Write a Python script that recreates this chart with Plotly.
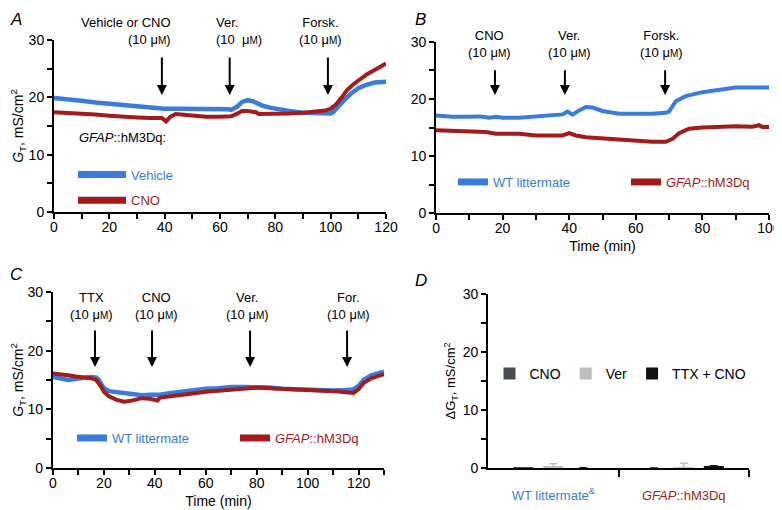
import plotly.graph_objects as go

BLUE = '#3b7bdb'
RED = '#a41b1b'
FONT = 'Arial, "Liberation Sans", sans-serif'

# Panel A: vehicle vs CNO, GFAP::hM3Dq
a_time_vehicle = [0, 5, 10, 15, 20, 25, 30, 35, 38, 40, 45, 50, 55, 60, 63, 64, 66, 68, 70, 72,
                  75, 78, 80, 85, 90, 95, 100, 101, 103, 105, 108, 110, 113, 116, 120]
a_vehicle = [19.9, 19.7, 19.4, 19.1, 18.9, 18.7, 18.5, 18.3, 18.1, 18.0, 18.0, 18.0, 18.0, 18.0, 17.9,
             17.8, 18.3, 19.2, 19.5, 19.3, 18.6, 18.2, 18.0, 17.6, 17.3, 17.2, 17.2, 17.5, 18.6, 19.6,
             20.9, 21.6, 22.2, 22.6, 22.7]
a_time_cno = [0, 5, 10, 15, 20, 25, 30, 35, 39, 40.5, 42, 44, 46, 48, 50, 55, 60, 64, 66, 68,
              70, 73, 74, 80, 85, 90, 95, 98, 100, 102, 104, 106, 108, 110, 113, 116, 120]
a_cno = [17.4, 17.3, 17.2, 17.0, 16.8, 16.6, 16.5, 16.4, 16.4, 15.8, 16.6, 17.1, 17.0, 16.8, 16.7,
         16.6, 16.6, 16.7, 17.1, 17.6, 17.6, 17.4, 17.1, 17.1, 17.2, 17.3, 17.5, 17.7, 18.0, 18.8,
         20.0, 21.3, 22.2, 23.0, 24.0, 24.8, 25.9]
a_events = [39, 63.5, 99]

# Panel B: WT littermate vs GFAP::hM3Dq
b_time_wt = [0, 5, 10, 13, 15, 16, 18, 20, 25, 30, 35, 38, 39.5, 41, 43, 45, 47, 50, 55, 60,
             65, 69, 70, 72, 75, 80, 85, 90, 95, 100]
b_wt = [17.1, 16.9, 16.9, 16.95, 16.8, 16.7, 16.9, 16.7, 16.7, 16.9, 17.1, 17.3, 17.8, 17.25, 18.0,
        18.6, 18.5, 17.9, 17.4, 17.4, 17.4, 17.6, 17.8, 19.6, 20.5, 21.2, 21.6, 22.0, 22.0, 22.0]
b_time_gfap = [0, 5, 10, 15, 18, 22, 25, 30, 35, 38, 40, 42, 45, 50, 55, 60, 65, 69, 71, 73,
               76, 80, 85, 90, 95, 97, 98, 100]
b_gfap = [14.5, 14.4, 14.3, 14.2, 13.9, 14.0, 13.9, 13.6, 13.6, 13.6, 14.0, 13.6, 13.3, 13.1, 12.9,
          12.6, 12.5, 12.5, 13.0, 14.0, 14.8, 15.0, 15.15, 15.2, 15.15, 15.4, 15.1, 15.1]
b_events = [17.7, 38.7, 68.8]

# Panel C: TTX pre-treatment
c_time = [0, 3, 6, 9, 12, 15, 17, 18, 19, 20, 22, 25, 28, 30, 33, 35, 38, 40, 41, 42,
          45, 50, 55, 60, 65, 70, 75, 80, 85, 90, 95, 100, 105, 110, 115, 118, 120, 122, 125, 128, 130]
c_wt = [15.5, 15.3, 15.0, 15.2, 15.4, 15.5, 15.4, 15.0, 14.3, 13.6, 13.1, 12.9, 12.7, 12.6, 12.5,
        12.4, 12.5, 12.5, 12.4, 12.5, 12.7, 13.0, 13.2, 13.5, 13.6, 13.8, 13.8, 13.8, 13.7, 13.5,
        13.4, 13.4, 13.3, 13.2, 13.3, 13.4, 14.0, 15.0, 15.8, 16.2, 16.4]
c_gfap = [16.1, 16.0, 15.8, 15.6, 15.5, 15.3, 15.0, 14.5, 13.8, 13.0, 12.2, 11.6, 11.3, 11.4, 11.7,
          11.9, 11.8, 11.7, 11.5, 12.0, 12.2, 12.4, 12.7, 13.0, 13.2, 13.4, 13.6, 13.7, 13.6, 13.5,
          13.4, 13.4, 13.3, 13.1, 12.9, 12.8, 13.4, 14.5, 15.3, 15.8, 16.0]
c_events = [16.5, 38.9, 77.4, 115.5]

# Panel D: delta G_T summary
d_groups = ["<span style='color:%s'>WT littermate<sup>&amp;</sup></span>" % BLUE,
            "<span style='color:%s'><i>GFAP</i>::hM3Dq</span>" % RED]
d_pos = [0.5, 1.5]
d_cno = [-0.15, -0.35]
d_cno_err = [0.1, 0.4]
d_ver = [0.25, -0.1]
d_ver_err = [0.5, 0.9]
d_ttx = [0.0, 0.3]
d_ttx_err = [0.05, 0.1]

MU = "(10 μ<span style='font-size:10px'>M</span>)"

fig = go.Figure()


def line(x, y, color, xa, ya, w=4):
    return go.Scatter(x=x, y=y, mode='lines', line=dict(color=color, width=w),
                      xaxis=xa, yaxis=ya, showlegend=False, hoverinfo='skip')


def key(name, color, legend, group, xa, ya, lw=None):
    # trace only for the legend, thicker key line
    tr = go.Scatter(x=[None], y=[None], mode='lines', line=dict(color=color, width=7),
                    name=name, legend=legend, legendgroup=group, xaxis=xa, yaxis=ya)
    if lw:
        tr.legendwidth = lw
    return tr


fig.add_trace(line(a_time_vehicle, a_vehicle, BLUE, 'x', 'y', 4.5))
fig.add_trace(line(a_time_cno, a_cno, RED, 'x', 'y'))
fig.add_trace(key("<span style='color:%s'>Vehicle</span>" % BLUE, BLUE, 'legend', 'a1', 'x', 'y'))
fig.add_trace(key("<span style='color:%s'>CNO</span>" % RED, RED, 'legend', 'a2', 'x', 'y'))

fig.add_trace(line(b_time_wt, b_wt, BLUE, 'x2', 'y2'))
fig.add_trace(line(b_time_gfap, b_gfap, RED, 'x2', 'y2'))
fig.add_trace(key("<span style='color:%s'>WT littermate</span>" % BLUE, BLUE, 'legend2', 'b1', 'x2', 'y2', 128))
fig.add_trace(key("<span style='color:%s'><i>GFAP</i>::hM3Dq</span>" % RED, RED, 'legend2', 'b2', 'x2', 'y2'))

fig.add_trace(line(c_time, c_wt, BLUE, 'x3', 'y3', 4.5))
fig.add_trace(line(c_time, c_gfap, RED, 'x3', 'y3'))
fig.add_trace(key("<span style='color:%s'>WT littermate</span>" % BLUE, BLUE, 'legend3', 'c1', 'x3', 'y3', 118))
fig.add_trace(key("<span style='color:%s'><i>GFAP</i>::hM3Dq</span>" % RED, RED, 'legend3', 'c2', 'x3', 'y3'))

for name, vals, errs, col in [('CNO', d_cno, d_cno_err, '#474d50'),
                              ('Ver', d_ver, d_ver_err, '#bcc0c1'),
                              ('TTX + CNO', d_ttx, d_ttx_err, '#111111')]:
    fig.add_trace(go.Bar(x=d_pos, y=vals, name=name, marker=dict(color=col, line=dict(width=0)),
                         error_y=dict(type='data', array=errs, color=col, thickness=1.5, width=4),
                         xaxis='x4', yaxis='y4', legend='legend4'))


def ax(**kw):
    d = dict(showline=True, linecolor='black', linewidth=2, ticks='outside', ticklen=5,
             tickwidth=2, tickcolor='black', showgrid=False, zeroline=False, automargin=False,
             ticklabeloverflow='allow', tickfont=dict(size=14, color='black'))
    d.update(kw)
    return d


def minor(step):
    return dict(dtick=step, ticks='outside', ticklen=5, tickwidth=2, tickcolor='black')


ytitle = "<i>G</i><sub>T</sub>, mS/cm<sup>2</sup>"

# page body keeps an 8px margin, so the figure is 8px smaller than the window
fig.update_layout(
    width=774, height=502,
    margin=dict(l=0, r=0, t=0, b=0, autoexpand=False),
    paper_bgcolor='white', plot_bgcolor='white',
    font=dict(family=FONT, size=13, color='black'),
    barmode='group', bargap=0.31, bargroupgap=0.33,
    xaxis=ax(domain=[0.0594, 0.4884], anchor='y', range=[0, 120], dtick=20, minor=minor(10),
             ticklabelstandoff=-4),
    yaxis=ax(domain=[0.5936, 0.9363], anchor='x', range=[0, 30], dtick=10, minor=minor(5),
             title=dict(text=ytitle, font=dict(size=14), standoff=12)),
    xaxis2=ax(domain=[0.5530, 0.9832], anchor='y2', range=[0, 100], dtick=20, minor=minor(10),
              ticklabelstandoff=-4, title=dict(text='Time (min)', font=dict(size=14), standoff=6)),
    yaxis2=ax(domain=[0.5916, 0.9323], anchor='x2', range=[0, 30], dtick=10, minor=minor(5)),
    xaxis3=ax(domain=[0.0581, 0.4858], anchor='y3', range=[0, 130], dtick=20, minor=minor(10),
              ticklabelstandoff=-4, title=dict(text='Time (min)', font=dict(size=14), standoff=6)),
    yaxis3=ax(domain=[0.0837, 0.4343], anchor='x3', range=[0, 30], dtick=10, minor=minor(5),
              title=dict(text=ytitle, font=dict(size=14), standoff=11)),
    xaxis4=ax(domain=[0.6202, 0.9574], anchor='y4', range=[0, 2], tickmode='array',
              tickvals=d_pos, ticktext=d_groups, ticks='', tickfont=dict(size=13),
              ticklabelstandoff=14,
              minor=dict(tickmode='array', tickvals=[1, 2], ticks='outside', ticklen=7,
                         tickwidth=2, tickcolor='black')),
    yaxis4=ax(domain=[0.0837, 0.4303], anchor='x4', range=[0, 30], dtick=10, minor=minor(5),
              title=dict(text="ΔG<sub>T</sub>, mS/cm<sup>2</sup>", font=dict(size=13), standoff=4)),
    legend=dict(x=0.0840, y=0.6424, xanchor='left', yanchor='middle', orientation='v',
                bgcolor='rgba(0,0,0,0)', font=dict(size=13), itemwidth=48, tracegroupgap=6),
    legend2=dict(x=0.5749, y=0.6534, xanchor='left', yanchor='middle', orientation='h',
                 bgcolor='rgba(0,0,0,0)', font=dict(size=13)),
    legend3=dict(x=0.0827, y=0.1434, xanchor='left', yanchor='middle', orientation='h',
                 bgcolor='rgba(0,0,0,0)', font=dict(size=13)),
    legend4=dict(x=0.6221, y=0.2709, xanchor='left', yanchor='middle', orientation='h',
                 bgcolor='rgba(0,0,0,0)', font=dict(size=14)),
)

ann = []
# panel letters
for letter, x, y, ya in [('A', 0.0, 1.0, 'top'), ('B', 0.5233, 1.0, 'top'),
                         ('C', 0.0, 0.4701, 'middle'), ('D', 0.5233, 0.4562, 'middle')]:
    ann.append(dict(text='<i>%s</i>' % letter, x=x, y=y, xref='paper', yref='paper',
                    xanchor='left', yanchor=ya, showarrow=False, font=dict(size=17)))

# drug labels
labels = [
    ('Vehicle or CNO<br>' + MU, 43, 0.9542, 'x', 'right'),
    ('Ver.<br>(10\u00a0 μ<span style=\'font-size:10px\'>M</span>)', 57.8, 0.9542, 'x', 'left'),
    ('Forsk.<br>' + MU, 96.5, 0.9542, 'x', 'center'),
    ('CNO<br>' + MU, 16.2, 0.9283, 'x2', 'center'),
    ('Ver.<br>' + MU, 40.2, 0.9283, 'x2', 'center'),
    ('Forsk.<br>' + MU, 67.7, 0.9283, 'x2', 'center'),
    ('TTX<br>' + MU, 15.3, 0.4064, 'x3', 'center'),
    ('CNO<br>' + MU, 40.5, 0.4064, 'x3', 'center'),
    ('Ver.<br>' + MU, 76.4, 0.4064, 'x3', 'center'),
    ('For.<br>' + MU, 115.9, 0.4064, 'x3', 'center'),
]
for text, x, y, xr, anchor in labels:
    ann.append(dict(text=text, x=x, y=y, xref=xr, yref='paper', xanchor=anchor, align=anchor,
                    yanchor='middle', showarrow=False, font=dict(size=13)))

# arrows marking drug application
for events, xr, yr, tip, tail in [(a_events, 'x', 'y', 20.4, 27.2),
                                  (b_events, 'x2', 'y2', 20.7, 25.3),
                                  (c_events, 'x3', 'y3', 17.2, 23.7)]:
    for t in events:
        ann.append(dict(text='', x=t, y=tip, xref=xr, yref=yr, ax=t, ay=tail, axref=xr, ayref=yr,
                        showarrow=True, arrowhead=2, arrowsize=1, arrowwidth=2, arrowcolor='black'))

ann.append(dict(text='<i>GFAP</i>::hM3Dq:', x=0.0891, y=0.743, xref='paper', yref='paper',
                xanchor='left', yanchor='middle', showarrow=False, font=dict(size=13)))

fig.update_layout(annotations=ann)

fig.write_html("out.html")
